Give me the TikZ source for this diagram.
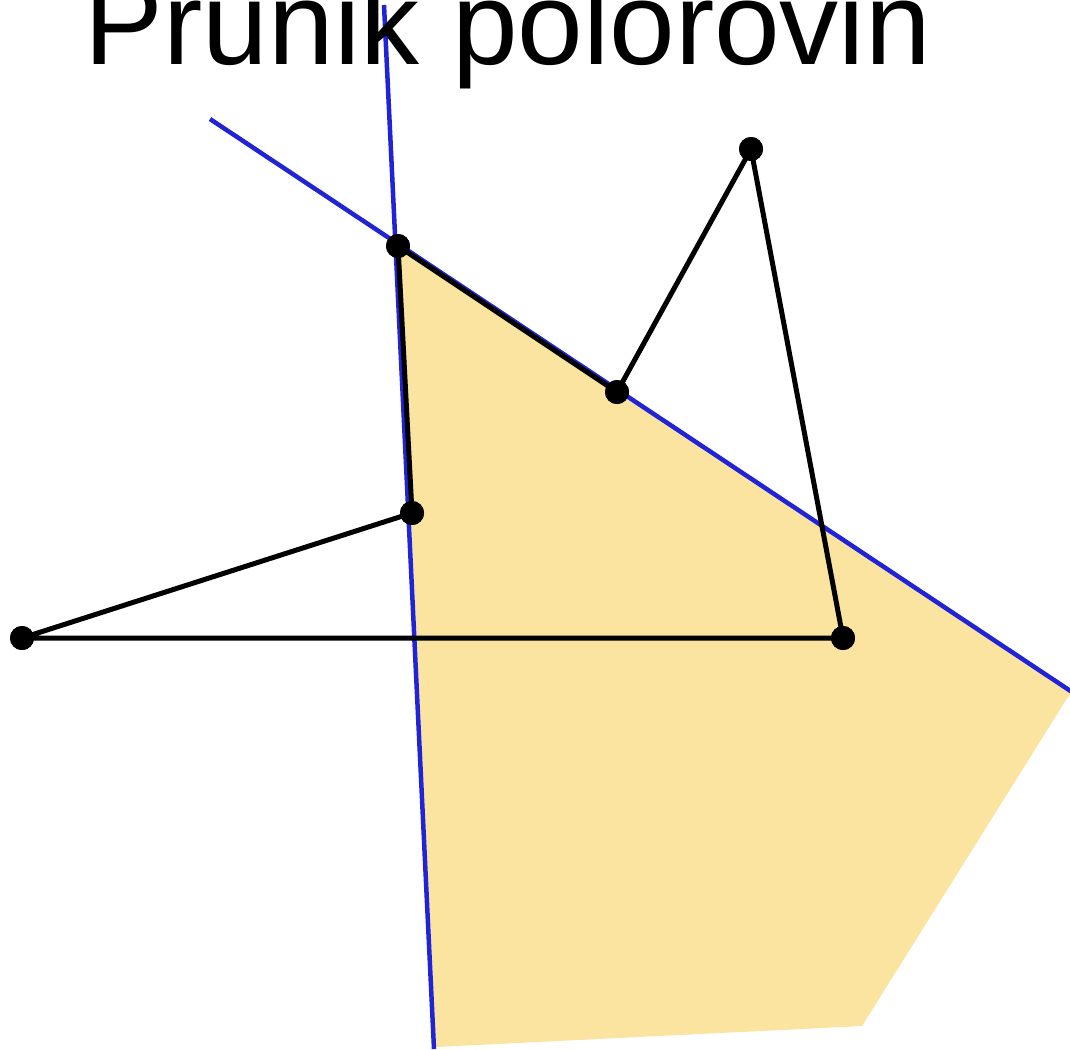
\documentclass[tikz,border=0pt]{standalone}
\usepackage{fontspec}
\setmainfont{Liberation Sans}
\definecolor{regionfill}{RGB}{251,227,160}
\definecolor{halfline}{RGB}{32,36,214}
\begin{document}
\begin{tikzpicture}[x=1pt,y=-1pt,
  vertex/.style={circle,fill=black,inner sep=0pt,minimum size=24pt},
  polyedge/.style={draw=black,line width=5pt,line join=round},
  boundary/.style={draw=halfline,line width=4.5pt},
  region/.style={fill=regionfill,draw=none}]
\useasboundingbox (0,0) rectangle (1070,1049);
% half-plane boundary end points
\coordinate (L1a) at (384,5);
\coordinate (L1b) at (434,1049);
\coordinate (L2a) at (210,119);
\coordinate (L2b) at (1072,692);
% intersection region
\path[region] (398,246) -- (1072,692) -- (1066,700) -- (862,1026) -- (436,1047) -- cycle;
% boundary lines
\draw[boundary] (L1a) -- (L1b);
\draw[boundary] (L2a) -- (L2b);
% polygon vertices
\node[vertex] (A) at (22,638) {};
\node[vertex] (B) at (412,513) {};
\node[vertex] (C) at (398,246) {};
\node[vertex] (D) at (617,392) {};
\node[vertex] (E) at (751,149) {};
\node[vertex] (F) at (843,638) {};
\draw[polyedge] (A.center) -- (B.center) -- (C.center) -- (D.center) -- (E.center) -- (F.center) -- cycle;
\foreach \p in {A,B,C,D,E,F} \fill (\p) circle (12pt);
% title
\node[anchor=base,inner sep=0pt,font=\fontsize{118}{120}\selectfont] (title) at (508,64) {Prunik polorovin};
\end{tikzpicture}
\end{document}
